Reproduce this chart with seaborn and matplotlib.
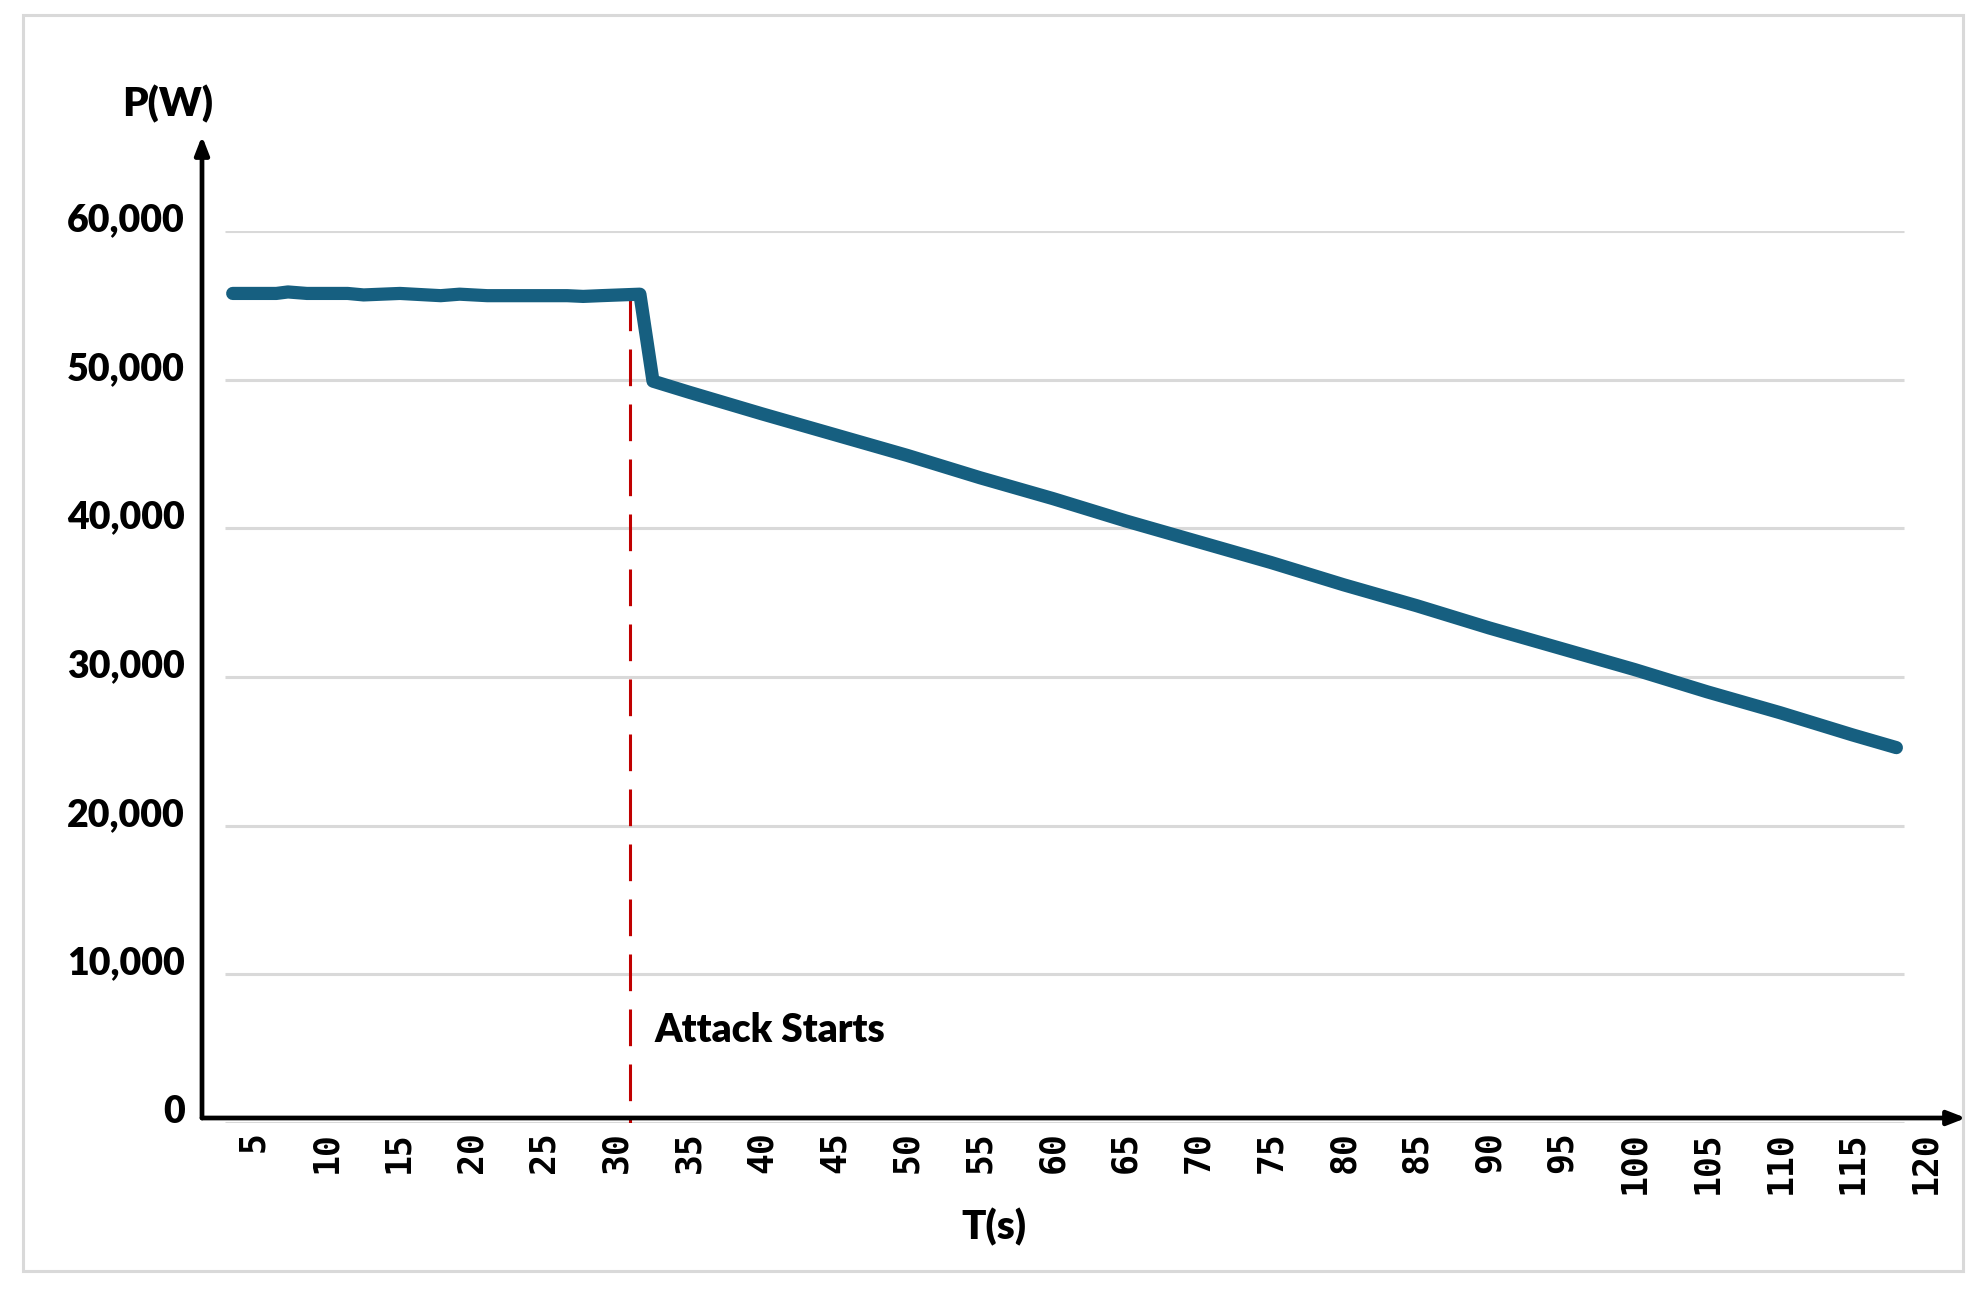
import numpy as np
import pandas as pd
import matplotlib
matplotlib.use("Agg")
import matplotlib.pyplot as plt
import matplotlib.transforms as mtransforms
from matplotlib.patches import Rectangle
import seaborn as sns

# ---------------- data ----------------
time_s = [3.6, 6.6, 7.4, 8.7, 11.5, 12.6, 15.1, 17.9, 19.2, 21.1, 26.6, 27.7, 28.9, 31.6,
          32.5, 35, 40, 45, 50, 55, 60, 65, 70, 75, 80, 85, 90, 95, 100, 105, 110, 115, 118]
power_w = [55800, 55800, 55900, 55800, 55800, 55700, 55800, 55650, 55750, 55650, 55650, 55600, 55650, 55750,
           49900, 49150, 47700, 46300, 44900, 43400, 42000, 40500, 39100, 37700, 36200, 34800, 33300,
           31900, 30500, 29000, 27600, 26100, 25250]
attack_time = 30.9
attack_top = 55750
attack_label = "Attack Starts"
x_ticks = list(range(5, 121, 5))
y_ticks = [0, 10000, 20000, 30000, 40000, 50000, 60000]
y_tick_labels = ["0", "10,000", "20,000", "30,000", "40,000", "50,000", "60,000"]
x_label = "T(s)"
y_label = "P(W)"

df = pd.DataFrame({"T": time_s, "P": power_w})
attack_df = pd.DataFrame({"T": [attack_time, attack_time], "P": [attack_top, 0]})

# ---------------- style ----------------
sns.set_theme(style="white")
plt.rcParams["font.family"] = ["Lato", "DejaVu Sans"]
plt.rcParams["text.color"] = "black"
plt.rcParams["xtick.color"] = "black"
plt.rcParams["ytick.color"] = "black"
plt.rcParams["xtick.labelcolor"] = "black"
plt.rcParams["ytick.labelcolor"] = "black"
TXT_W = "heavy"

W, H = 1983, 1294
fig = plt.figure(figsize=(W / 100, H / 100), dpi=100)
fig.patch.set_facecolor("white")

left_px, right_px = 225, 1940
bottom_px, top_px = 1123, 231
ax = fig.add_axes([left_px / W, 1 - bottom_px / H, (right_px - left_px) / W, (bottom_px - top_px) / H])
ax.set_facecolor("white")

x_min, x_grid_end, x_max = 3.07, 118.5, 121.0
ax.set_xlim(x_min, x_max)
ax.set_ylim(0, 60000)

# gridlines
ax.hlines(y_ticks, x_min, x_grid_end, colors="#d9d9d9", linewidth=2.2, zorder=1)

# main line
sns.lineplot(data=df, x="T", y="P", ax=ax, color="#165f80", linewidth=9.5,
             solid_capstyle="round", solid_joinstyle="round", zorder=3, legend=False)

# attack marker (drawn top-down so the dash pattern starts at the curve)
ax.plot(attack_df["T"], attack_df["P"], color="#c00000", linewidth=2.2,
        linestyle=(0, (12, 6)), zorder=2)
ax.text(32.6, 6200, attack_label, fontsize=28, fontweight=TXT_W, color="black",
        ha="left", va="center", zorder=4)

# spines off, arrows instead
for s in ax.spines.values():
    s.set_visible(False)

ax_x0 = (202 - left_px) / (right_px - left_px)
ax_xend = (1966 - left_px) / (right_px - left_px)
ax_y0 = (bottom_px - 1118) / (bottom_px - top_px)
ax_yend = (bottom_px - 136) / (bottom_px - top_px)
arrowprops = dict(arrowstyle="-|>,head_length=0.9,head_width=0.35", color="black", lw=3.4,
                  shrinkA=0, shrinkB=0)
ax.annotate("", xy=(ax_xend, ax_y0), xytext=(ax_x0, ax_y0), xycoords="axes fraction",
            textcoords="axes fraction", arrowprops=arrowprops, annotation_clip=False)
ax.annotate("", xy=(ax_x0, ax_yend), xytext=(ax_x0, ax_y0), xycoords="axes fraction",
            textcoords="axes fraction", arrowprops=arrowprops, annotation_clip=False)

# ticks
ax.set_xticks(x_ticks)
ax.set_xticklabels([str(t) for t in x_ticks], rotation=90, fontsize=25,
                   fontweight="bold", family="DejaVu Sans Mono", color="black")
ax.set_yticks(y_ticks)
ax.set_yticklabels(y_tick_labels, fontsize=27, fontweight=TXT_W, color="black")
ax.tick_params(axis="x", length=0, pad=6)
ax.tick_params(axis="y", length=0, pad=29)
offset = mtransforms.ScaledTranslation(0, 10 / 72, fig.dpi_scale_trans)
for lbl in ax.get_yticklabels():
    lbl.set_transform(lbl.get_transform() + offset)
ax.set_xlabel("")
ax.set_ylabel("")

# axis titles
ax.text((168 - left_px) / (right_px - left_px), (bottom_px - 104) / (bottom_px - top_px), y_label,
        transform=ax.transAxes, fontsize=29, fontweight=TXT_W, ha="center", va="center", color="black")
ax.text((994 - left_px) / (right_px - left_px), (bottom_px - 1227) / (bottom_px - top_px), x_label,
        transform=ax.transAxes, fontsize=29, fontweight=TXT_W, ha="center", va="center", color="black")

# outer border
fig.patches.append(Rectangle((23 / W, 1 - 1271 / H), (1963 - 23) / W, (1271 - 15) / H,
                             transform=fig.transFigure, fill=False, edgecolor="#d9d9d9",
                             linewidth=2.2, zorder=0))

fig.savefig("out.png", dpi=100, facecolor="white")
